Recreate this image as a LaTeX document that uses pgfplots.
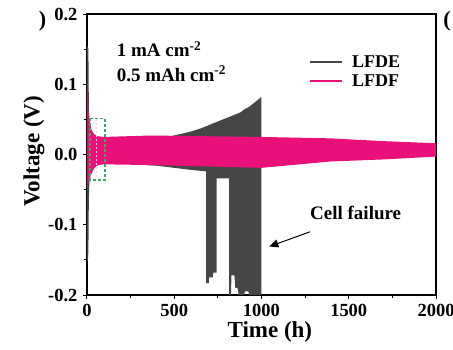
\documentclass[border=0pt]{standalone}
\usepackage{fontspec}
\setmainfont{Liberation Serif}
\usepackage{pgfplots}
\pgfplotsset{compat=1.18}
\usetikzlibrary{arrows.meta}
\definecolor{lfde}{RGB}{70,70,70}
\definecolor{lfdf}{RGB}{233,16,122}
\definecolor{gbox}{RGB}{60,170,90}
\newcommand{\legfont}{\fontsize{18}{18}\selectfont\bfseries}
\begin{document}
\begin{tikzpicture}
\begin{axis}[
  name=ax, at={(0,0)}, anchor=south west,
  scale only axis, width=349pt, height=281pt,
  xmin=0, xmax=2000, ymin=-0.2, ymax=0.2,
  xtick={0,500,1000,1500,2000}, ytick={-0.2,-0.1,0,0.1,0.2},
  minor x tick num=1, minor y tick num=1,
  tick align=outside, xtick pos=bottom, ytick pos=left,
  major tick length=4pt, minor tick length=2.5pt,
  axis line style={line width=1.1pt}, every tick/.style={line width=1pt, black},
  /pgf/number format/assume math mode=true,
  xticklabel style={font=\fontsize{18.5}{18.5}\selectfont\bfseries, /pgf/number format/1000 sep={}, yshift=-1.5pt},
  yticklabel style={font=\fontsize{18.5}{18.5}\selectfont\bfseries, /pgf/number format/fixed, /pgf/number format/fixed zerofill, /pgf/number format/precision=1, xshift=-2pt},
  xlabel={Time (h)}, ylabel={Voltage (V)},
  xlabel style={font=\fontsize{23}{23}\selectfont\bfseries, at={(axis description cs:0.524,-0.132)}, anchor=center},
  ylabel style={font=\fontsize{23}{23}\selectfont\bfseries, at={(axis description cs:-0.152,0.511)}, anchor=center, rotate=0},
]
% LFDE
\addplot[fill=lfde, draw=none] coordinates {
(0,-0.15) (0,0.152) (4,0.155) (8,0.15) (10,0.09) (12,0.05) (16,0.035) (25,0.026) (50,0.02) (100,0.018) (300,0.020) (400,0.023) (480,0.026) (550,0.030) (600,0.033) (650,0.037) (700,0.042) (750,0.047) (800,0.052) (850,0.057) (880,0.060) (900,0.064) (930,0.068) (960,0.074) (985,0.079) (1000,0.082)
(1000,-0.2) (930,-0.2) (925,-0.195) (905,-0.195) (900,-0.2) (870,-0.2) (862,-0.19) (850,-0.19) (845,-0.172) (828,-0.172) (825,-0.2) (815,-0.2) (815,-0.034) (743,-0.034) (743,-0.168) (725,-0.168) (720,-0.175) (700,-0.175) (698,-0.183) (683,-0.183) (683,-0.024) (600,-0.022) (500,-0.019) (400,-0.016) (200,-0.013) (100,-0.013) (50,-0.016) (25,-0.024) (16,-0.032) (12,-0.05) (10,-0.08) (8,-0.14) (4,-0.152)
};
% LFDF
\addplot[fill=lfdf, draw=none] coordinates {
(2,-0.047) (2,0.1) (4,0.085) (8,0.065) (15,0.05) (25,0.036) (40,0.029) (60,0.026) (100,0.025) (361,0.027) (700,0.026) (1000,0.025) (1393,0.023) (1700,0.019) (2000,0.016)
(2000,-0.003) (1700,-0.007) (1393,-0.010) (1000,-0.019) (700,-0.017) (361,-0.015) (100,-0.014) (60,-0.015) (40,-0.02) (25,-0.028) (15,-0.034) (8,-0.04) (4,-0.045)
};
% legend
\draw[lfde, line width=2pt] (axis description cs:0.639,0.830) -- (axis description cs:0.731,0.830);
\node[anchor=west, inner sep=0pt, font=\legfont] at (axis description cs:0.759,0.830) {LFDE};
\draw[lfdf, line width=2pt] (axis description cs:0.639,0.7616) -- (axis description cs:0.731,0.7616);
\node[anchor=west, inner sep=0pt, font=\legfont] at (axis description cs:0.759,0.7616) {LFDF};
% zoom box
\draw[gbox, line width=1.1pt, dash pattern=on 3pt off 2pt] (axis cs:17,0.0515) rectangle (axis cs:103,-0.0363);
\draw[white!75!gray, line width=0.8pt, dash pattern=on 2pt off 2pt] (axis cs:55,0.05) -- (axis cs:55,-0.035);
% annotations
\node[anchor=base west, font=\fontsize{19}{19}\selectfont\bfseries, inner sep=0pt] at (axis cs:170,0.139) {1 mA cm\textsuperscript{-2}};
\node[anchor=base west, font=\fontsize{19}{19}\selectfont\bfseries, inner sep=0pt] at (axis cs:170,0.1046) {0.5 mAh cm\textsuperscript{-2}};
\node[anchor=base west, font=\fontsize{19}{19}\selectfont\bfseries, inner sep=0pt] at (axis cs:1278,-0.093) {Cell failure};
\draw[-{Triangle[length=9pt,width=8pt]}, line width=1pt] (axis cs:1278,-0.110) -- (axis cs:1045,-0.131);
\end{axis}
\node[font=\fontsize{22}{22}\selectfont\bfseries, inner sep=0pt] at ([shift={(-44.5pt,273.5pt)}]ax.south west) {)};
\node[font=\fontsize{22}{22}\selectfont\bfseries, inner sep=0pt] at ([shift={(360pt,273.5pt)}]ax.south west) {(};
\pgfresetboundingbox
\path[use as bounding box] ([shift={(-87pt,-54pt)}]ax.south west) rectangle ([shift={(366pt,295pt)}]ax.south west);
\end{tikzpicture}
\end{document}
